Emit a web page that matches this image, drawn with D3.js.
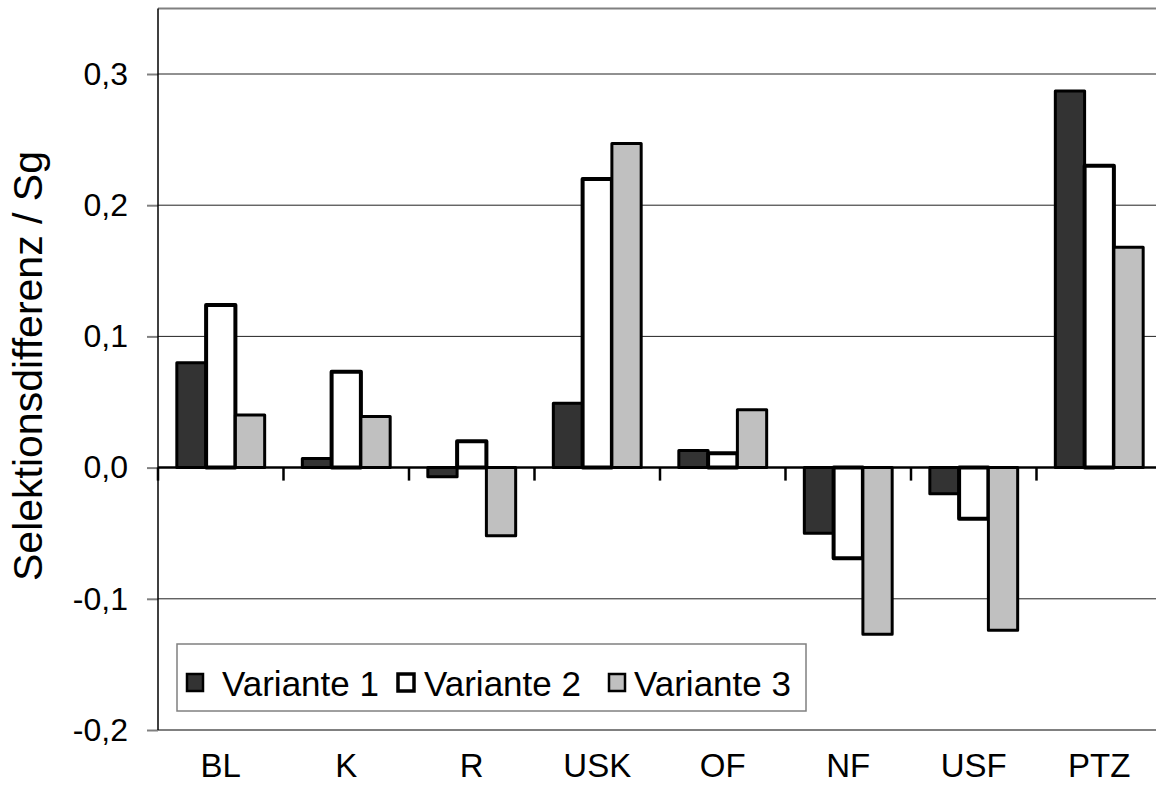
<!DOCTYPE html>
<html>
<head>
<meta charset="utf-8">
<script src="https://cdn.jsdelivr.net/npm/d3@7"></script>
<style>
  html, body { margin: 0; padding: 0; background: #fff; }
  svg { display: block; font-family: "Liberation Sans", Arial, sans-serif; }
</style>
</head>
<body>
<svg id="chart" width="1156" height="796"></svg>
<script>
// ---- data ----
const categories = ["BL", "K", "R", "USK", "OF", "NF", "USF", "PTZ"];
const seriesNames = ["Variante 1", "Variante 2", "Variante 3"];
const variante1 = [0.080, 0.007, -0.007, 0.049, 0.013, -0.050, -0.020, 0.287];
const variante2 = [0.124, 0.073, 0.020, 0.220, 0.011, -0.069, -0.039, 0.230];
const variante3 = [0.040, 0.039, -0.052, 0.247, 0.044, -0.127, -0.124, 0.168];
const yTickValues = [-0.2, -0.1, 0.0, 0.1, 0.2, 0.3];
const yTickLabels = ["-0,2", "-0,1", "0,0", "0,1", "0,2", "0,3"];
const yTitle = "Selektionsdifferenz / Sg";

const seriesValues = [variante1, variante2, variante3];
const fills = ["#333333", "#ffffff", "#c0c0c0"];

// ---- layout ----
const plotLeft = 158, plotRight = 1162, plotTop = 8.4, plotBottom = 730;
const svg = d3.select("#chart");

const y = d3.scaleLinear().domain([-0.2, 0.35]).range([plotBottom, plotTop]);
const x = d3.scaleBand().domain(categories).range([plotLeft, plotRight]).paddingInner(0).paddingOuter(0);
const bw = x.bandwidth();
const groupW = bw * 0.7;
const x1 = d3.scaleBand().domain(seriesNames).range([0, groupW]).padding(0);

// gridlines (excluding zero, drawn as axis)
svg.append("g").selectAll("line")
  .data(yTickValues.filter(v => v !== 0 && v !== -0.2))
  .join("line")
  .attr("x1", plotLeft).attr("x2", plotRight)
  .attr("y1", d => y(d)).attr("y2", d => y(d))
  .attr("stroke", "#222").attr("stroke-width", 1);

// plot border top & bottom
svg.append("line").attr("x1", plotLeft).attr("x2", plotRight)
  .attr("y1", y(0.35)).attr("y2", y(0.35))
  .attr("stroke", "#808080").attr("stroke-width", 2);
svg.append("line").attr("x1", plotLeft).attr("x2", plotRight)
  .attr("y1", y(-0.2)).attr("y2", y(-0.2))
  .attr("stroke", "#808080").attr("stroke-width", 2);

// y axis
const yAxis = d3.axisLeft(y)
  .tickValues(yTickValues)
  .tickFormat((d, i) => yTickLabels[i])
  .tickSize(11)
  .tickPadding(19);
const gy = svg.append("g").attr("transform", `translate(${plotLeft},0)`).call(yAxis);
gy.select(".domain").remove();
gy.selectAll(".tick line").attr("stroke", "#808080").attr("stroke-width", 2);
gy.selectAll(".tick text")
  .attr("font-size", 32)
  .attr("fill", "#000")
  .attr("font-family", "Liberation Sans, Arial, sans-serif");
svg.append("line").attr("x1", plotLeft).attr("x2", plotLeft)
  .attr("y1", y(0.35)).attr("y2", y(-0.2))
  .attr("stroke", "#000").attr("stroke-width", 1.5);

// bars
const barData = [];
categories.forEach((c, ci) => {
  seriesNames.forEach((s, si) => {
    barData.push({cat: c, series: s, si: si, value: seriesValues[si][ci]});
  });
});
svg.append("g").selectAll("rect")
  .data(barData)
  .join("rect")
  .attr("x", d => x(d.cat) + (bw - groupW) / 2 + x1(d.series))
  .attr("y", d => Math.min(y(d.value), y(0)))
  .attr("width", x1.bandwidth())
  .attr("height", d => Math.abs(y(d.value) - y(0)))
  .attr("fill", d => fills[d.si])
  .attr("stroke", "#000")
  .attr("stroke-width", d => d.si === 1 ? 4 : 3)
  .attr("stroke-linejoin", "round");

// zero axis with category tick marks
const xAxis = d3.axisBottom(x).tickSize(0).tickFormat("");
const gx = svg.append("g").attr("transform", `translate(0,${y(0)})`).call(xAxis);
gx.selectAll(".tick").remove();
gx.select(".domain").attr("stroke", "#000").attr("stroke-width", 2.5)
  .attr("d", `M${plotLeft},0H${plotRight}`);
const boundaries = categories.map(c => x(c)).concat([plotRight]);
svg.append("g").selectAll("line")
  .data(boundaries)
  .join("line")
  .attr("x1", d => d).attr("x2", d => d)
  .attr("y1", y(0)).attr("y2", y(0) + 13)
  .attr("stroke", "#000").attr("stroke-width", 2.5);

// x category labels
svg.append("g").selectAll("text")
  .data(categories)
  .join("text")
  .attr("x", d => x(d) + bw / 2)
  .attr("y", 777)
  .attr("text-anchor", "middle")
  .attr("font-size", 33)
  .text(d => d);

// y title
svg.append("text")
  .attr("transform", `translate(42,366) rotate(-90)`)
  .attr("text-anchor", "middle")
  .attr("font-size", 41)
  .text(yTitle);

// legend
const lg = svg.append("g");
lg.append("rect").attr("x", 177).attr("y", 644).attr("width", 629).attr("height", 67)
  .attr("fill", "#fff").attr("stroke", "#808080").attr("stroke-width", 1.5);
const legendSwatchX = [187, 398, 609];
const legendTextX = [222, 424, 634];
seriesNames.forEach((s, i) => {
  lg.append("rect").attr("x", legendSwatchX[i]).attr("y", 674).attr("width", 16).attr("height", 17)
    .attr("fill", fills[i]).attr("stroke", "#000").attr("stroke-width", i === 1 ? 3.5 : 2.5);
  lg.append("text").attr("x", legendTextX[i]).attr("y", 696)
    .attr("font-size", 35).text(s);
});
</script>
</body>
</html>
